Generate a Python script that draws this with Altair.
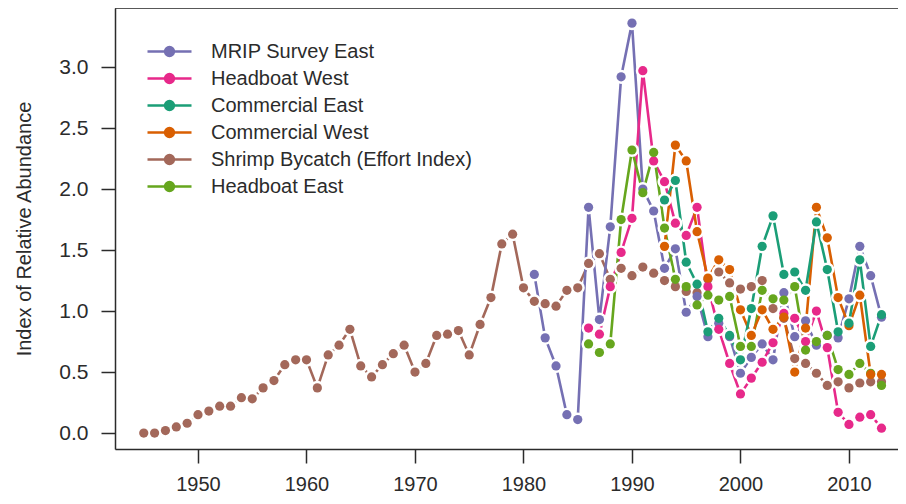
import altair as alt
import pandas as pd

# ---- data ----
series_names = [
    "MRIP Survey East",
    "Headboat West",
    "Commercial East",
    "Commercial West",
    "Shrimp Bycatch (Effort Index)",
    "Headboat East",
]
series_colors = ["#7570B3", "#E7298A", "#1B9E77", "#D95F02", "#A3685A", "#66A61E"]

shrimp_years = list(range(1945, 2014))
shrimp = [0.00, 0.00, 0.02, 0.05, 0.08, 0.15, 0.18, 0.22, 0.22, 0.29,
          0.28, 0.37, 0.43, 0.56, 0.60, 0.60, 0.37, 0.64, 0.72, 0.85,
          0.55, 0.46, 0.56, 0.65, 0.72, 0.50, 0.57, 0.80, 0.81, 0.84,
          0.64, 0.89, 1.11, 1.55, 1.63, 1.19, 1.08, 1.06, 1.04, 1.17,
          1.19, 1.39, 1.47, 1.26, 1.35, 1.29, 1.36, 1.31, 1.25, 1.20,
          1.16, 1.15, 1.26, 1.32, 1.23, 1.18, 1.20, 1.25, 1.02, 0.94,
          0.61, 0.57, 0.49, 0.39, 0.42, 0.37, 0.41, 0.42, 0.42]

mrip_years = list(range(1981, 2014))
mrip = [1.30, 0.78, 0.55, 0.15, 0.11, 1.85, 0.93, 1.69, 2.92, 3.36,
        2.00, 1.82, 1.35, 1.51, 0.99, 1.12, 0.79, 0.90, 0.79, 0.49,
        0.62, 0.73, 0.60, 1.15, 0.79, 0.92, 0.72, 0.80, 0.78, 1.10,
        1.53, 1.29, 0.95]

hb_years = list(range(1986, 2014))
hb_west = [0.86, 0.81, 1.20, 1.48, 1.76, 2.97, 2.23, 2.06, 1.72, 1.62,
           1.85, 1.20, 0.85, 0.57, 0.32, 0.45, 0.58, 0.74, 0.98, 0.94,
           0.75, 1.00, 0.70, 0.17, 0.07, 0.13, 0.15, 0.04]
hb_east = [0.73, 0.66, 0.73, 1.75, 2.32, 1.97, 2.30, 1.68, 1.26, 1.20,
           1.05, 1.13, 1.09, 1.12, 0.71, 0.71, 1.17, 1.10, 1.09, 1.20,
           0.68, 0.75, 0.80, 0.52, 0.48, 0.57, 0.49, 0.39]

com_years = list(range(1993, 2014))
com_east = [1.91, 2.07, 1.40, 1.22, 0.83, 0.94, 0.80, 0.60, 1.02, 1.53,
            1.78, 1.30, 1.32, 1.17, 1.73, 1.34, 0.83, 0.90, 1.42, 0.71,
            0.97]
com_west = [1.53, 2.36, 2.23, 1.65, 1.27, 1.42, 1.34, 1.01, 0.80, 1.01,
            0.85, 0.95, 0.50, 0.86, 1.85, 1.60, 1.11, 0.88, 1.13, 0.48,
            0.48]

x_ticks = [1950, 1960, 1970, 1980, 1990, 2000, 2010]
y_ticks = [0.0, 0.5, 1.0, 1.5, 2.0, 2.5, 3.0]

# ---- long table ----
rows = []
for name, yrs, vals in [
    (series_names[4], shrimp_years, shrimp),
    (series_names[0], mrip_years, mrip),
    (series_names[1], hb_years, hb_west),
    (series_names[5], hb_years, hb_east),
    (series_names[3], com_years, com_west),
    (series_names[2], com_years, com_east),
]:
    for yr, v in zip(yrs, vals):
        rows.append({"year": yr, "value": v, "series": name})
df = pd.DataFrame(rows)

FONT = "Liberation Sans"
TXT = "#2b2b2b"

legend_path = "M-1,0L1,0M-0.2,0A0.2,0.2,0,1,0,0.2,0A0.2,0.2,0,1,0,-0.2,0Z"

color = alt.Color(
    "series:N",
    scale=alt.Scale(domain=series_names, range=series_colors),
    legend=alt.Legend(
        title=None, orient="none", legendX=31, legendY=30,
        symbolType=legend_path, symbolSize=1936, symbolStrokeWidth=2.5,
        clipHeight=27, rowPadding=0, padding=0, labelOffset=18,
        labelFontSize=20, labelFont=FONT, labelColor=TXT, labelLimit=500,
    ),
)

x = alt.X(
    "year:Q",
    scale=alt.Scale(domain=[1942.35, 2014.52], nice=False, zero=False),
    axis=alt.Axis(values=x_ticks, format="d", title=None, grid=False,
                  tickSize=14, tickWidth=1.5, tickColor=TXT,
                  labelPadding=11, labelFontSize=20, labelFont=FONT,
                  labelColor=TXT, domainColor=TXT, domainWidth=1.5),
)
y = alt.Y(
    "value:Q",
    scale=alt.Scale(domain=[-0.131, 3.484], nice=False, zero=False),
    axis=alt.Axis(values=y_ticks, format=".1f",
                  title="Index of Relative Abundance", titleFontSize=20,
                  titleFont=FONT, titleColor=TXT, titleFontWeight="normal",
                  titlePadding=24, grid=False,
                  tickSize=14, tickWidth=1.5, tickColor=TXT,
                  labelPadding=13, labelFontSize=21, labelFont=FONT,
                  labelColor=TXT, domainColor=TXT, domainWidth=1.5),
)

base = alt.Chart(df)
lines = base.mark_line(strokeWidth=2.6).encode(
    x=x, y=y, color=color, order="year:Q", detail="series:N")
halos = base.mark_circle(size=200, color="white", opacity=1).encode(x=x, y=y)
dots = base.mark_circle(size=85, opacity=1).encode(x=x, y=y, color=color)

top_border = alt.Chart(pd.DataFrame({"k": [0]})).mark_rule(
    color=TXT, strokeWidth=1.5).encode(y=alt.value(0))

chart = alt.layer(lines, halos, dots, top_border).properties(
    width=783, height=441,
    autosize=alt.AutoSizeParams(type="none"),
    padding={"left": 107, "top": 0, "right": 0, "bottom": 47},
).configure_view(stroke=None).configure(background="white")

chart.save("out.html", embed_options={"renderer": "svg", "actions": False})
